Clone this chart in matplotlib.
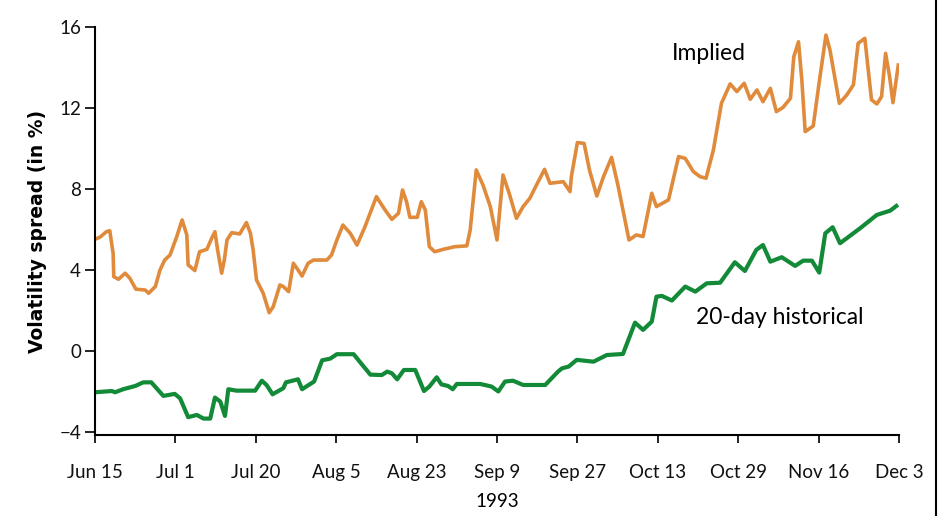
# plot.py
#   implied vs historical volatility spread, 1993

import numpy as np
from matplotlib import pyplot as plt
from matplotlib.lines import Line2D

# data (x = trading day since Jun 15)
tick_days = [0, 12, 24, 36, 48, 60, 72, 84, 96, 108, 120]
tick_labels = ["Jun 15", "Jul 1", "Jul 20", "Aug 5", "Aug 23", "Sep 9",
               "Sep 27", "Oct 13", "Oct 29", "Nov 16", "Dec 3"]

implied_x = [0.0, 0.7, 1.7, 2.2, 2.7, 2.8, 3.5, 4.5, 5.2, 6.1, 7.5, 8.0, 9.0, 9.7,
             10.4, 11.2, 12.2, 13.0, 13.7, 13.9, 14.9, 15.6, 16.7, 17.4, 17.9, 18.3,
             18.9, 19.3, 19.7, 20.4, 21.6, 22.1, 22.6, 23.2, 23.6, 24.1, 25.1, 26.0,
             26.6, 27.6, 28.1, 28.9, 29.6, 30.3, 30.9, 31.8, 32.6, 34.6, 35.3, 36.1,
             37.0, 38.1, 39.1, 40.3, 42.0, 43.3, 44.3, 45.3, 45.9, 46.5, 47.0, 48.1,
             48.7, 49.3, 49.9, 50.7, 52.0, 53.7, 55.5, 56.0, 56.9, 57.9, 59.0, 60.0,
             60.9, 61.9, 62.9, 63.9, 64.9, 65.9, 67.1, 67.9, 69.9, 70.9, 71.1, 72.0,
             73.0, 73.8, 74.9, 75.9, 77.1, 78.1, 79.7, 80.8, 81.8, 83.1, 83.8, 85.6,
             87.1, 88.1, 89.3, 90.3, 91.2, 92.3, 93.5, 94.8, 95.8, 96.9, 97.8, 98.8,
             99.7, 100.8, 101.7, 102.7, 103.8, 104.3, 105.0, 105.5, 106.0, 107.2,
             108.0, 109.1, 109.7, 111.1, 112.2, 113.2, 113.9, 114.9, 115.9, 116.7,
             117.4, 118.0, 118.6, 119.1, 119.9]
implied_y = [5.52, 5.61, 5.89, 5.94, 4.82, 3.67, 3.54, 3.84, 3.59, 3.05, 3.01, 2.85,
             3.18, 4.00, 4.49, 4.74, 5.65, 6.47, 5.73, 4.25, 3.97, 4.90, 5.02, 5.56,
             5.89, 4.99, 3.84, 4.49, 5.48, 5.84, 5.78, 6.06, 6.34, 5.81, 4.99, 3.51,
             2.85, 1.89, 2.19, 3.26, 3.18, 2.93, 4.33, 4.00, 3.70, 4.33, 4.49, 4.49,
             4.74, 5.48, 6.22, 5.81, 5.23, 6.14, 7.62, 6.96, 6.50, 6.80, 7.95, 7.37,
             6.60, 6.60, 7.37, 6.96, 5.15, 4.90, 5.02, 5.15, 5.19, 5.98, 8.94, 8.20,
             7.13, 5.48, 8.69, 7.70, 6.55, 7.13, 7.54, 8.20, 8.97, 8.28, 8.36, 7.87,
             8.61, 10.29, 10.25, 8.94, 7.65, 8.61, 9.56, 8.11, 5.48, 5.73, 5.65, 7.79,
             7.13, 7.46, 9.60, 9.51, 8.86, 8.61, 8.53, 9.93, 12.23, 13.19, 12.81,
             13.22, 12.43, 12.89, 12.31, 12.97, 11.82, 12.03, 12.48, 14.53, 15.27,
             13.38, 10.83, 11.11, 13.05, 15.60, 14.86, 12.23, 12.64, 13.14, 15.19,
             15.44, 12.40, 12.20, 12.56, 14.70, 13.55, 12.26, 14.12]

hist_x = [0.0, 2.5, 3.0, 4.2, 6.0, 7.2, 8.4, 10.2, 11.9, 12.7, 13.9, 15.2, 16.2, 17.2,
          17.9, 18.7, 19.4, 19.9, 21.1, 23.9, 24.9, 25.6, 26.5, 28.1, 28.5, 30.3, 30.9,
          32.7, 33.9, 35.1, 36.1, 38.6, 40.1, 41.1, 42.8, 43.6, 44.3, 45.1, 46.1, 47.8,
          49.1, 49.9, 51.0, 51.7, 52.7, 53.4, 54.0, 57.5, 59.2, 60.2, 61.2, 62.4, 63.9,
          67.2, 69.1, 69.7, 70.7, 71.9, 74.4, 76.4, 78.8, 80.6, 81.8, 83.1, 83.8, 84.6,
          86.1, 88.1, 89.6, 91.3, 93.3, 95.5, 97.0, 98.7, 99.7, 100.8, 102.5, 104.5,
          105.7, 107.0, 108.1, 109.0, 110.1, 111.2, 114.2, 116.7, 118.7, 119.6]
hist_y = [-2.04, -1.98, -2.04, -1.89, -1.73, -1.55, -1.55, -2.22, -2.12, -2.34, -3.27,
          -3.16, -3.34, -3.34, -2.30, -2.50, -3.21, -1.89, -1.96, -1.96, -1.47, -1.68,
          -2.14, -1.84, -1.55, -1.40, -1.89, -1.51, -0.46, -0.38, -0.16, -0.16, -0.77,
          -1.17, -1.19, -1.02, -1.10, -1.40, -0.94, -0.94, -1.98, -1.76, -1.30, -1.65,
          -1.73, -1.89, -1.63, -1.63, -1.76, -2.00, -1.51, -1.47, -1.68, -1.68, -1.02,
          -0.86, -0.77, -0.44, -0.53, -0.20, -0.15, 1.40, 1.04, 1.45, 2.68, 2.72, 2.49,
          3.18, 2.93, 3.34, 3.37, 4.38, 3.95, 4.99, 5.23, 4.41, 4.63, 4.20, 4.46, 4.46,
          3.87, 5.81, 6.11, 5.32, 6.06, 6.72, 6.93, 7.16]

y_ticks = [-4, 0, 4, 8, 12, 16]

ORANGE = "#E08A3C"
GREEN = "#138A38"


def main():
    plt.rcParams["font.family"] = ["Lato", "DejaVu Sans"]
    fig = plt.figure(figsize=(9.38, 5.16), dpi=100)
    ax = fig.add_axes([0.1013, 0.157, 0.8571, 0.7907])

    ax.plot(implied_x, implied_y, color=ORANGE, lw=2.6, solid_joinstyle="round")
    ax.plot(hist_x, hist_y, color=GREEN, lw=3.0, solid_joinstyle="round")

    ax.set_xlim(0, 120)
    ax.set_ylim(-4.15, 16)
    ax.set_xticks(tick_days)
    ax.set_xticklabels(tick_labels)
    ax.set_yticks(y_ticks)
    ax.set_yticklabels([str(t).replace("-", "\u2212") for t in y_ticks])
    ax.tick_params(axis="x", length=6, width=1.3, pad=15, labelsize=13.5, colors="#111111")
    ax.tick_params(axis="y", length=7, width=1.3, pad=3, labelsize=13.5, colors="#111111")

    for side in ["top", "right"]:
        ax.spines[side].set_visible(False)
    for side in ["left", "bottom"]:
        ax.spines[side].set_linewidth(1.5)

    ax.set_ylabel("Volatility spread (in %)", fontsize=13.5, fontweight="bold",
                  family="DejaVu Sans", labelpad=9)
    ax.text(60, -7.45, "1993", ha="center", va="center", fontsize=13.5)

    # series labels
    ax.text(91.6, 14.7, "Implied", ha="center", va="center", fontsize=16.5)
    ax.text(102.2, 1.63, "20-day historical", ha="center", va="center", fontsize=16.5)

    # right border of the original image
    fig.add_artist(Line2D([0.9975, 0.9975], [0, 1], color="black", lw=1.5,
                         transform=fig.transFigure))

    fig.savefig("out.png", dpi=100)


if __name__ == "__main__":
    main()
